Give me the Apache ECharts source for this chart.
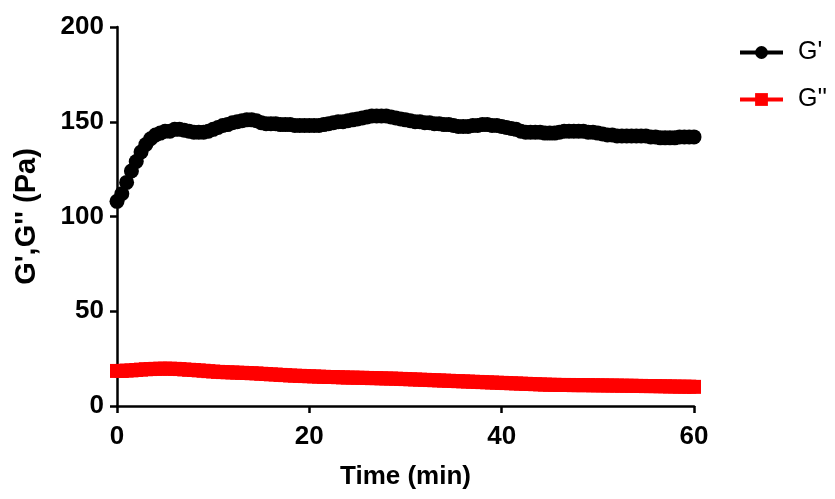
<!DOCTYPE html>
<html>
<head>
<meta charset="utf-8">
<script src="https://cdn.jsdelivr.net/npm/echarts@6/dist/echarts.min.js"></script>
<style>
html,body{margin:0;padding:0;background:#fff;}
#chart{width:835px;height:499px;}
</style>
</head>
<body>
<div id="chart"></div>
<script>
// Sampling times (min)
const timeStep = 0.5;
const timeCount = 121;
const times = Array.from({length: timeCount}, (_, i) => +(i * timeStep).toFixed(1));

const xTicks = [0, 20, 40, 60];
const yTicks = [0, 50, 100, 150, 200];

// G' (Pa)
const gPrime = [
  108, 112, 118, 124, 129, 134, 138, 141, 143, 144,
  145, 145, 146, 146, 145.5, 145, 144.5, 144.5, 144.5, 145,
  146, 147, 148, 148.5, 149.5, 150, 150.5, 151, 151, 150.5,
  149.5, 149, 149, 149, 148.5, 148.5, 148.5, 148, 148, 148,
  148, 148, 148, 148.5, 149, 149.5, 150, 150, 150.5, 151,
  151.5, 152, 152.5, 153, 153, 153, 153, 152.5, 152, 151.5,
  151, 150.5, 150, 150, 149.5, 149.5, 149, 149, 148.5, 148.5,
  148, 147.5, 147.5, 147.5, 148, 148, 148.5, 148.5, 148, 148,
  147.5, 147, 146.5, 146, 145, 144.5, 144.5, 144.5, 144.5, 144,
  144, 144, 144.5, 145, 145, 145, 145, 145, 144.5, 144.5,
  144, 143.5, 143, 143, 142.5, 142.5, 142.5, 142.5, 142.5, 142.5,
  142.5, 142, 142, 141.5, 141.5, 141.5, 141.5, 142, 142, 142,
  142
];

// G'' (Pa)
const gDoublePrime = [
  18.5, 18.5, 18.7, 18.8, 19.0, 19.2, 19.4,
  19.5, 19.6, 19.7, 19.7, 19.7, 19.6, 19.5, 19.3, 19.1, 19.0,
  18.8, 18.6, 18.4, 18.2, 18.0, 17.9, 17.8, 17.7, 17.6, 17.5, 17.4, 17.3,
  17.2, 17.0, 16.9, 16.7, 16.6, 16.4, 16.3, 16.1, 16.0, 15.9, 15.8, 15.7,
  15.6, 15.5, 15.4, 15.3, 15.3, 15.2, 15.1, 15.0, 15.0, 14.9, 14.9, 14.8,
  14.7, 14.7, 14.6, 14.5, 14.5, 14.4, 14.3, 14.2, 14.1, 14.0, 13.9, 13.8,
  13.7, 13.6, 13.5, 13.4, 13.3, 13.2, 13.1, 13.0, 12.9, 12.8, 12.7, 12.6,
  12.5, 12.4, 12.3, 12.2, 12.1, 12.0, 11.9, 11.8, 11.7, 11.6, 11.5, 11.4,
  11.3, 11.2, 11.2, 11.1, 11.1, 11.1, 11.0, 11.0, 11.0, 11.0, 10.9, 10.9,
  10.9, 10.8, 10.8, 10.8, 10.7, 10.7, 10.7, 10.6, 10.6, 10.5, 10.5, 10.5,
  10.4, 10.4, 10.3, 10.3, 10.2, 10.2, 10.2, 10.1
];

const seriesNames = ["G'", "G''"];

const pair = (vals) => vals.map((v, i) => [times[i], v]);

const font = 'Liberation Sans, Arial, sans-serif';
const chart = echarts.init(document.getElementById('chart'));
chart.setOption({
  animation: false,
  backgroundColor: '#fff',
  grid: {left: 117, right: 141, top: 27, bottom: 93, containLabel: false},
  legend: {
    orient: 'vertical',
    left: 733,
    top: 35,
    itemWidth: 43,
    itemHeight: 16,
    itemGap: 22,
    lineStyle: {width: 4},
    textStyle: {fontFamily: font, fontSize: 25, color: '#000', padding: [0, 0, 0, 10]},
    data: seriesNames
  },
  xAxis: {
    type: 'value',
    min: xTicks[0], max: xTicks[xTicks.length - 1], interval: 20,
    name: 'Time (min)',
    nameLocation: 'middle',
    nameGap: 58,
    nameTextStyle: {fontFamily: font, fontSize: 26, fontWeight: 'bold', color: '#000'},
    axisLine: {show: true, onZero: false, lineStyle: {color: '#000', width: 2.5}},
    axisTick: {show: true, inside: false, length: 7, lineStyle: {color: '#000', width: 2.5}},
    axisLabel: {fontFamily: font, fontSize: 26, fontWeight: 'bold', color: '#000', margin: 18},
    splitLine: {show: false}
  },
  yAxis: {
    type: 'value',
    min: yTicks[0], max: yTicks[yTicks.length - 1], interval: 50,
    name: "G',G'' (Pa)",
    nameLocation: 'middle',
    nameGap: 76,
    nameRotate: 90,
    nameTextStyle: {fontFamily: font, fontSize: 29, fontWeight: 'bold', color: '#000'},
    axisLine: {show: true, lineStyle: {color: '#000', width: 2.5}},
    axisTick: {show: true, inside: false, length: 7, lineStyle: {color: '#000', width: 2.5}},
    axisLabel: {fontFamily: font, fontSize: 26, fontWeight: 'bold', color: '#000', margin: 13},
    splitLine: {show: false}
  },
  series: [
    {
      name: seriesNames[0],
      type: 'line',
      data: pair(gPrime),
      symbol: 'circle',
      symbolSize: 15,
      showAllSymbol: true,
      itemStyle: {color: '#000'},
      lineStyle: {color: '#000', width: 4},
      z: 3
    },
    {
      name: seriesNames[1],
      type: 'line',
      data: pair(gDoublePrime),
      symbol: 'rect',
      symbolSize: 14,
      showAllSymbol: true,
      itemStyle: {color: '#ff0000'},
      lineStyle: {color: '#ff0000', width: 4},
      z: 3
    }
  ]
});
</script>
</body>
</html>
